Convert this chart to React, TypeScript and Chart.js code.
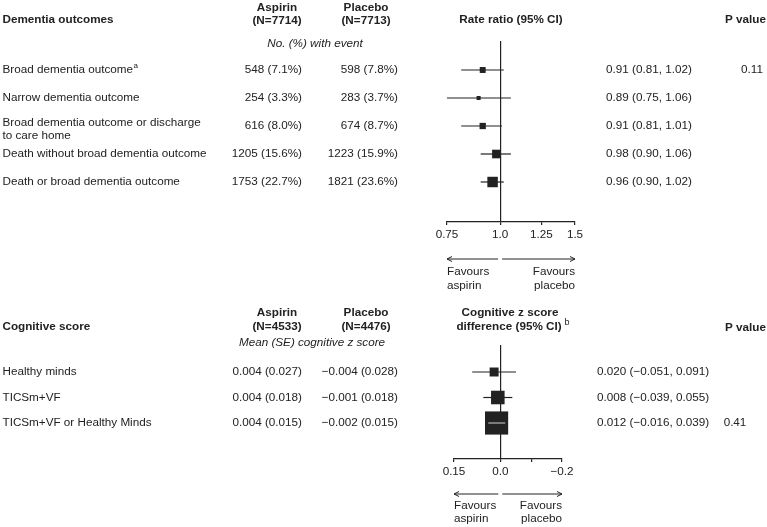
import React, { useEffect, useRef } from "react";
import { Chart, registerables } from "chart.js";

Chart.register(...registerables);

// ---------------- Data: dementia outcomes ----------------
const aspirinTotalA = 7714;
const placeboTotalA = 7713;
const outcomeLabels = [
  ["Broad dementia outcome"],
  ["Narrow dementia outcome"],
  ["Broad dementia outcome or discharge", "to care home"],
  ["Death without broad dementia outcome"],
  ["Death or broad dementia outcome"],
];
const outcomeNotes = ["a", "", "", "", ""];
const aspirinEvents = [548, 254, 616, 1205, 1753];
const aspirinEventPct = [7.1, 3.3, 8.0, 15.6, 22.7];
const placeboEvents = [598, 283, 674, 1223, 1821];
const placeboEventPct = [7.8, 3.7, 8.7, 15.9, 23.6];
const rateRatio = [0.91, 0.89, 0.91, 0.98, 0.96];
const rateRatioLow = [0.81, 0.75, 0.81, 0.9, 0.9];
const rateRatioHigh = [1.02, 1.06, 1.01, 1.06, 1.02];
const outcomePValues = ["0.11", "", "", "", ""];
const rateTicks = [0.75, 1.0, 1.25, 1.5];
const rateTickLabels = ["0.75", "1.0", "1.25", "1.5"];

// ---------------- Data: cognitive scores ----------------
const aspirinTotalB = 4533;
const placeboTotalB = 4476;
const cognitiveLabels = ["Healthy minds", "TICSm+VF", "TICSm+VF or Healthy Minds"];
const aspirinMean = [0.004, 0.004, 0.004];
const aspirinSE = [0.027, 0.018, 0.015];
const placeboMean = [-0.004, -0.001, -0.002];
const placeboSE = [0.028, 0.018, 0.015];
const zDiff = [0.02, 0.008, 0.012];
const zDiffLow = [-0.051, -0.039, -0.016];
const zDiffHigh = [0.091, 0.055, 0.039];
const cognitivePValues = ["", "", "0.41"];
const zTicks = [0.15, 0.0, -0.1, -0.2];
const zTickLabels = ["0.15", "0.0", "", "\u22120.2"];

// ---------------- Styling ----------------
const INK = "#222222";
const GREY = "#b8b8b8";
const FAMILY = '"Liberation Sans", Arial, Helvetica, sans-serif';
const FS = 11.7;
const W = 767;
const TOP_H = 300;
const BOT_H = 227;

const fmt = (v: number, d: number) => (v < 0 ? "\u2212" : "") + Math.abs(v).toFixed(d);

function txt(ctx: CanvasRenderingContext2D, s: string, x: number, y: number, align: CanvasTextAlign = "left", weight = "normal", style = "normal", size = FS) {
  ctx.font = `${style} ${weight} ${size}px ${FAMILY}`;
  ctx.textAlign = align;
  ctx.textBaseline = "middle";
  ctx.fillStyle = INK;
  ctx.fillText(s, x, y);
  return ctx.measureText(s).width;
}

function arrow(ctx: CanvasRenderingContext2D, x1: number, x2: number, y: number) {
  const d = x2 > x1 ? -1 : 1;
  ctx.beginPath();
  ctx.moveTo(x1, y);
  ctx.lineTo(x2, y);
  ctx.moveTo(x2 + d * 5, y - 2.5);
  ctx.lineTo(x2, y);
  ctx.lineTo(x2 + d * 5, y + 2.5);
  ctx.strokeStyle = INK;
  ctx.lineWidth = 1;
  ctx.stroke();
}

function favours(ctx: CanvasRenderingContext2D, xs: any, ref: number, y: number, gap1: number, gap2: number) {
  const r = xs.getPixelForValue(ref);
  arrow(ctx, r - 2, xs.left, y);
  arrow(ctx, r + 2, xs.right, y);
  txt(ctx, "Favours", xs.left, y + gap1);
  txt(ctx, "aspirin", xs.left, y + gap2);
  txt(ctx, "Favours", xs.right, y + gap1, "right");
  txt(ctx, "placebo", xs.right, y + gap2, "right");
}

function xAxis(type: string, min: number, max: number, reverse: boolean, ticks: number[], labels: string[], ref: number, height: number) {
  return {
    type,
    min,
    max,
    reverse,
    position: "bottom",
    afterBuildTicks: (s: any) => {
      s.ticks = ticks.map((v) => ({ value: v }));
    },
    afterFit: (s: any) => {
      s.height = height;
    },
    ticks: {
      autoSkip: false,
      maxRotation: 0,
      minRotation: 0,
      padding: 3,
      color: INK,
      font: { family: FAMILY, size: FS },
      callback: (_v: any, i: number) => labels[i],
    },
    grid: {
      drawOnChartArea: true,
      color: (c: any) => (c.tick && Math.abs(c.tick.value - ref) < 1e-9 ? INK : "rgba(0,0,0,0)"),
      tickColor: INK,
      tickLength: 3,
      lineWidth: 1.2,
    },
    border: { display: true, color: INK, width: 1.2 },
  };
}

function ciDatasets(est: number[], lo: number[], hi: number[], sides: number[]) {
  const lines = est.map((_, i) => ({
    type: "scatter",
    showLine: true,
    order: 0,
    clip: false,
    data: [
      { x: lo[i], y: i },
      { x: hi[i], y: i },
    ],
    borderColor: (c: any) => {
      const sc = c.chart.scales.x;
      const len = Math.abs(sc.getPixelForValue(hi[i]) - sc.getPixelForValue(lo[i]));
      return len < sides[i] ? GREY : INK;
    },
    borderWidth: 1.2,
    pointRadius: 0,
  }));
  const boxes = {
    type: "scatter",
    order: 1,
    clip: false,
    data: est.map((v, i) => ({ x: v, y: i })),
    pointStyle: "rect",
    pointRadius: sides.map((s) => s / Math.SQRT2),
    pointBackgroundColor: INK,
    pointBorderWidth: 0,
  };
  return [...lines, boxes];
}

export default function App() {
  const topRef = useRef<HTMLCanvasElement>(null);
  const botRef = useRef<HTMLCanvasElement>(null);

  useEffect(() => {
    // ---- top chart: rate ratios (log scale) ----
    const topSides = aspirinEvents.map((a, i) => 0.175 * Math.sqrt(a + placeboEvents[i]));
    const topRowY0 = 70, topRowStep = 28, topAreaTop = 41, topAreaBottom = 222;
    const topText = {
      id: "topText",
      afterDraw(chart: any) {
        const ctx = chart.ctx as CanvasRenderingContext2D;
        const ys = chart.scales.y;
        const xs = chart.scales.x;
        ctx.save();
        txt(ctx, "Dementia outcomes", 2.5, 20, "left", "bold");
        txt(ctx, "Aspirin", 277, 7.5, "center", "bold");
        txt(ctx, `(N=${aspirinTotalA})`, 277, 20.5, "center", "bold");
        txt(ctx, "Placebo", 366, 7.5, "center", "bold");
        txt(ctx, `(N=${placeboTotalA})`, 366, 20.5, "center", "bold");
        txt(ctx, "Rate ratio (95% CI)", 511, 20, "center", "bold");
        txt(ctx, "P value", 766, 20, "right", "bold");
        txt(ctx, "No. (%) with event", 315, 44, "center", "normal", "italic");
        outcomeLabels.forEach((lines, i) => {
          const y = ys.getPixelForValue(i);
          if (lines.length === 1) {
            const w = txt(ctx, lines[0], 2.5, y);
            if (outcomeNotes[i]) txt(ctx, outcomeNotes[i], 3 + w, y - 4, "left", "normal", "normal", 8);
          } else {
            txt(ctx, lines[0], 2.5, y - 3);
            txt(ctx, lines[1], 2.5, y + 10);
          }
          txt(ctx, `${aspirinEvents[i]} (${aspirinEventPct[i].toFixed(1)}%)`, 302, y, "right");
          txt(ctx, `${placeboEvents[i]} (${placeboEventPct[i].toFixed(1)}%)`, 398, y, "right");
          txt(ctx, `${fmt(rateRatio[i], 2)} (${fmt(rateRatioLow[i], 2)}, ${fmt(rateRatioHigh[i], 2)})`, 606, y);
          if (outcomePValues[i]) txt(ctx, outcomePValues[i], 752, y, "center");
        });
        favours(ctx, xs, 1, 259, 13, 27);
        ctx.restore();
      },
    };
    const top = new Chart(topRef.current as HTMLCanvasElement, {
      type: "scatter",
      data: { datasets: ciDatasets(rateRatio, rateRatioLow, rateRatioHigh, topSides) as any },
      options: {
        animation: false,
        responsive: false,
        devicePixelRatio: 1,
        events: [],
        layout: { padding: { left: 447, right: W - 575, top: topAreaTop, bottom: 0 } },
        plugins: { legend: { display: false }, tooltip: { enabled: false } },
        scales: {
          x: xAxis("logarithmic", 0.75, 1.5, false, rateTicks, rateTickLabels, 1, TOP_H - topAreaBottom) as any,
          y: {
            type: "linear",
            display: false,
            reverse: true,
            min: (topAreaTop - topRowY0) / topRowStep,
            max: (topAreaBottom - topRowY0) / topRowStep,
          },
        },
      },
      plugins: [topText],
    });

    // ---- bottom chart: cognitive z score differences ----
    const botSides = zDiffLow.map((lo, i) => 0.325 / ((zDiffHigh[i] - lo) / 3.92));
    const botRowY0 = 72, botRowStep = 25.5, botAreaTop = 45, botAreaBottom = 159;
    const botText = {
      id: "botText",
      afterDraw(chart: any) {
        const ctx = chart.ctx as CanvasRenderingContext2D;
        const ys = chart.scales.y;
        const xs = chart.scales.x;
        ctx.save();
        txt(ctx, "Cognitive score", 2.5, 27, "left", "bold");
        txt(ctx, "Aspirin", 277, 13, "center", "bold");
        txt(ctx, `(N=${aspirinTotalB})`, 277, 27, "center", "bold");
        txt(ctx, "Placebo", 366, 13, "center", "bold");
        txt(ctx, `(N=${placeboTotalB})`, 366, 27, "center", "bold");
        txt(ctx, "Cognitive z score", 510, 13, "center", "bold");
        const w = txt(ctx, "difference (95% CI)", 509, 27, "center", "bold");
        txt(ctx, "b", 509 + w / 2 + 3, 23, "left", "normal", "normal", 9);
        txt(ctx, "P value", 766, 28, "right", "bold");
        txt(ctx, "Mean (SE) cognitive z score", 312, 43, "center", "normal", "italic");
        cognitiveLabels.forEach((label, i) => {
          const y = ys.getPixelForValue(i);
          txt(ctx, label, 2.5, y);
          txt(ctx, `${fmt(aspirinMean[i], 3)} (${fmt(aspirinSE[i], 3)})`, 302, y, "right");
          txt(ctx, `${fmt(placeboMean[i], 3)} (${fmt(placeboSE[i], 3)})`, 398, y, "right");
          txt(ctx, `${fmt(zDiff[i], 3)} (${fmt(zDiffLow[i], 3)}, ${fmt(zDiffHigh[i], 3)})`, 597, y);
          if (cognitivePValues[i]) txt(ctx, cognitivePValues[i], 735, y, "center");
        });
        favours(ctx, xs, 0, 194, 12, 25);
        ctx.restore();
      },
    };
    const bot = new Chart(botRef.current as HTMLCanvasElement, {
      type: "scatter",
      data: { datasets: ciDatasets(zDiff, zDiffLow, zDiffHigh, botSides) as any },
      options: {
        animation: false,
        responsive: false,
        devicePixelRatio: 1,
        events: [],
        layout: { padding: { left: 454, right: W - 562, top: botAreaTop, bottom: 0 } },
        plugins: { legend: { display: false }, tooltip: { enabled: false } },
        scales: {
          x: xAxis("linear", -0.2, 0.15, true, zTicks, zTickLabels, 0, BOT_H - botAreaBottom) as any,
          y: {
            type: "linear",
            display: false,
            reverse: true,
            min: (botAreaTop - botRowY0) / botRowStep,
            max: (botAreaBottom - botRowY0) / botRowStep,
          },
        },
      },
      plugins: [botText],
    });

    return () => {
      top.destroy();
      bot.destroy();
    };
  }, []);

  return (
    <div style={{ position: "absolute", left: 0, top: 0, width: W, height: TOP_H + BOT_H, background: "#fff" }}>
      <canvas ref={topRef} width={W} height={TOP_H} style={{ position: "absolute", left: 0, top: 0, width: W, height: TOP_H }} />
      <canvas ref={botRef} width={W} height={BOT_H} style={{ position: "absolute", left: 0, top: TOP_H, width: W, height: BOT_H }} />
    </div>
  );
}
